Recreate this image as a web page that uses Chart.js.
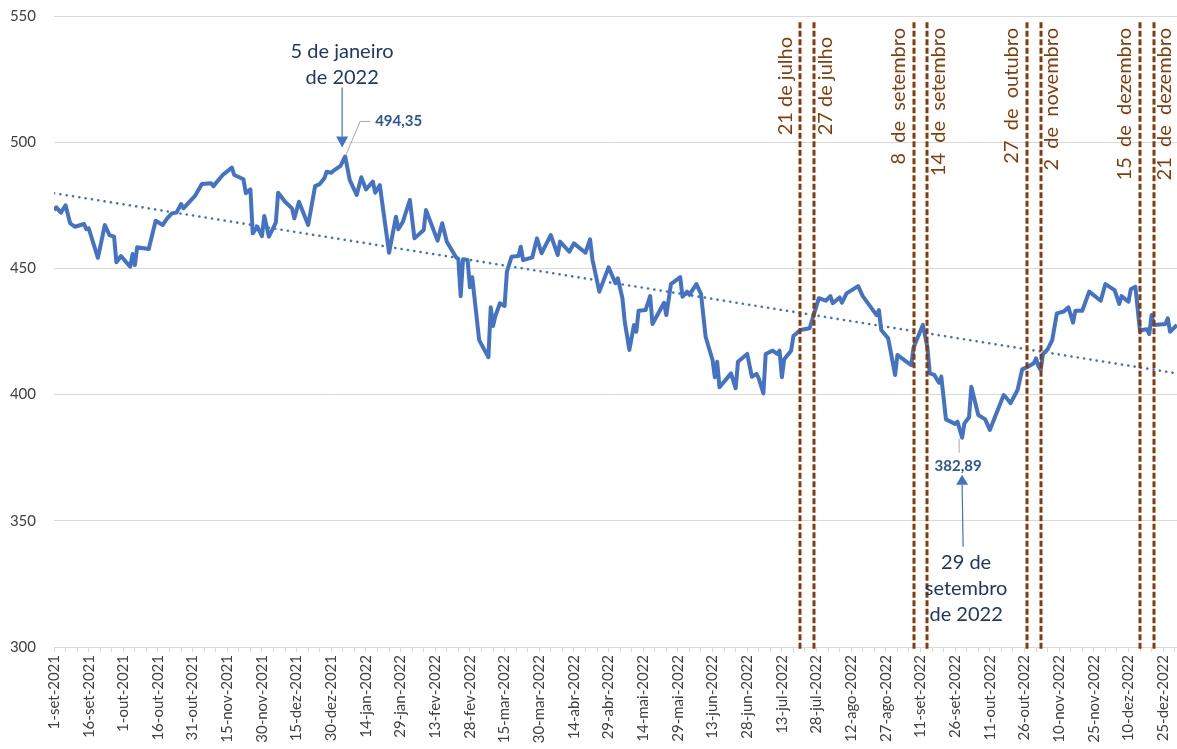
<!DOCTYPE html>
<html lang="pt">
<head>
<meta charset="utf-8">
<title>Cotação diária</title>
<script src="https://cdn.jsdelivr.net/npm/chart.js@4.4.1/dist/chart.umd.min.js"></script>
<style>
  html, body { margin: 0; padding: 0; background: #fff; }
</style>
</head>
<body>
<canvas id="Chart" width="1177" height="749"></canvas>
<script>
// DATA (turning points of the daily series)

const startDate = '2021-09-01';
const endDate = '2022-12-31';
const monthNames = ['jan', 'fev', 'mar', 'abr', 'mai', 'jun', 'jul', 'ago', 'set', 'out', 'nov', 'dez'];

const dates = [
	'2021-09-01','2021-09-02','2021-09-04','2021-09-06','2021-09-08','2021-09-10','2021-09-14','2021-09-15','2021-09-16','2021-09-20',
	'2021-09-23','2021-09-25','2021-09-27','2021-09-28','2021-09-30','2021-10-02','2021-10-04','2021-10-05','2021-10-06','2021-10-07',
	'2021-10-12','2021-10-15','2021-10-18','2021-10-20','2021-10-22','2021-10-24','2021-10-26','2021-10-27','2021-11-01','2021-11-04',
	'2021-11-08','2021-11-09','2021-11-13','2021-11-17','2021-11-18','2021-11-22','2021-11-23','2021-11-25','2021-11-26','2021-11-28',
	'2021-11-30','2021-12-01','2021-12-03','2021-12-06','2021-12-07','2021-12-10','2021-12-13','2021-12-14','2021-12-16','2021-12-20',
	'2021-12-23','2021-12-25','2021-12-27','2021-12-28','2021-12-30','2021-12-31','2022-01-03','2022-01-05','2022-01-07','2022-01-10',
	'2022-01-12','2022-01-14','2022-01-17','2022-01-18','2022-01-20','2022-01-24','2022-01-27','2022-01-28','2022-01-30','2022-02-02',
	'2022-02-04','2022-02-08','2022-02-09','2022-02-14','2022-02-16','2022-02-18','2022-02-22','2022-02-23','2022-02-24','2022-02-25',
	'2022-02-27','2022-02-28','2022-03-01','2022-03-04','2022-03-08','2022-03-09','2022-03-10','2022-03-11','2022-03-13','2022-03-15',
	'2022-03-16','2022-03-18','2022-03-21','2022-03-22','2022-03-23','2022-03-27','2022-03-29','2022-03-31','2022-04-04','2022-04-07',
	'2022-04-08','2022-04-12','2022-04-14','2022-04-19','2022-04-21','2022-04-22','2022-04-25','2022-04-29','2022-05-02','2022-05-03',
	'2022-05-05','2022-05-06','2022-05-08','2022-05-10','2022-05-11','2022-05-12','2022-05-15','2022-05-17','2022-05-18','2022-05-23',
	'2022-05-24','2022-05-26','2022-05-30','2022-05-31','2022-06-02','2022-06-03','2022-06-06','2022-06-08','2022-06-10','2022-06-13',
	'2022-06-14','2022-06-15','2022-06-16','2022-06-21','2022-06-23','2022-06-24','2022-06-28','2022-06-30','2022-07-02','2022-07-03',
	'2022-07-05','2022-07-06','2022-07-09','2022-07-11','2022-07-12','2022-07-13','2022-07-14','2022-07-17','2022-07-18','2022-07-21',
	'2022-07-25','2022-07-29','2022-08-01','2022-08-03','2022-08-04','2022-08-07','2022-08-08','2022-08-10','2022-08-15','2022-08-17',
	'2022-08-23','2022-08-24','2022-08-25','2022-08-28','2022-08-31','2022-09-01','2022-09-05','2022-09-07','2022-09-08','2022-09-12',
	'2022-09-14','2022-09-15','2022-09-17','2022-09-19','2022-09-20','2022-09-22','2022-09-26','2022-09-27','2022-09-29','2022-09-30',
	'2022-10-02','2022-10-03','2022-10-06','2022-10-09','2022-10-11','2022-10-17','2022-10-18','2022-10-20','2022-10-23','2022-10-25',
	'2022-10-28','2022-10-30','2022-10-31','2022-11-01','2022-11-02','2022-11-03','2022-11-05','2022-11-07','2022-11-09','2022-11-12',
	'2022-11-14','2022-11-16','2022-11-17','2022-11-20','2022-11-23','2022-11-28','2022-11-30','2022-12-04','2022-12-06','2022-12-07',
	'2022-12-10','2022-12-11','2022-12-13','2022-12-15','2022-12-16','2022-12-18','2022-12-19','2022-12-20','2022-12-21','2022-12-26',
	'2022-12-27','2022-12-28','2022-12-31'
];

const values = [
	473.1, 474.2, 472.1, 475.0, 467.9, 466.5, 467.6, 465.5, 465.9, 454.2,
	467.2, 463.2, 462.6, 452.4, 454.9, 452.7, 450.7, 455.7, 451.3, 458.4,
	457.7, 468.9, 467.2, 469.8, 471.8, 472.1, 475.5, 473.8, 478.7, 483.4,
	483.7, 482.6, 487.0, 489.9, 487.0, 485.3, 479.8, 481.3, 463.9, 466.5,
	462.8, 470.8, 462.6, 468.1, 480.0, 476.4, 473.8, 469.8, 476.4, 467.2,
	482.6, 483.4, 485.7, 488.3, 487.9, 488.7, 490.6, 494.35, 485.0, 479.1,
	486.1, 481.3, 484.4, 480.0, 483.0, 456.2, 470.5, 465.5, 468.5, 477.1,
	461.9, 465.2, 473.1, 461.0, 467.9, 460.6, 454.4, 453.6, 439.0, 453.6,
	453.3, 442.5, 446.5, 421.6, 414.8, 434.6, 427.2, 431.1, 436.2, 435.1,
	448.7, 454.6, 454.9, 458.6, 453.3, 454.4, 461.9, 456.0, 463.2, 455.3,
	460.6, 456.6, 459.9, 456.2, 461.5, 453.6, 440.8, 450.4, 444.1, 446.1,
	438.2, 428.9, 417.7, 427.6, 424.9, 433.2, 433.5, 439.0, 428.0, 436.4,
	431.5, 443.8, 446.5, 438.8, 440.8, 439.5, 443.8, 439.9, 422.9, 413.7,
	406.9, 413.0, 402.9, 408.4, 402.5, 413.0, 416.1, 407.1, 408.2, 406.4,
	400.5, 416.1, 417.4, 416.1, 417.4, 406.9, 414.0, 417.4, 423.2, 425.6,
	426.3, 438.2, 437.2, 439.0, 436.2, 438.5, 436.4, 440.1, 443.0, 439.0,
	431.5, 433.5, 425.6, 422.3, 407.8, 415.7, 413.0, 411.7, 418.7, 427.6,
	418.7, 408.4, 407.8, 404.7, 407.1, 390.2, 388.4, 389.3, 382.89, 388.6,
	391.0, 403.1, 391.9, 390.2, 386.0, 399.8, 398.9, 396.6, 401.8, 410.0,
	411.3, 412.4, 414.4, 411.3, 409.7, 416.1, 417.9, 421.6, 432.2, 432.9,
	434.6, 428.5, 433.2, 433.2, 440.8, 437.2, 443.8, 441.4, 435.9, 439.0,
	436.8, 441.7, 442.7, 424.9, 425.6, 425.9, 424.0, 431.5, 427.6, 428.0,
	430.2, 424.9, 427.6
];

// linear trend (dotted), ends
const trendStart = 479.8;
const trendEnd = 408.4;

// vertical dashed markers
const eventDates = ['2022-07-21', '2022-07-27', '2022-09-08', '2022-09-14', '2022-10-27', '2022-11-02', '2022-12-15', '2022-12-21'];
const eventLabels = ['21 de julho', '27 de julho', '8  de  setembro', '14  de  setembro', '27  de  outubro', '2  de  novembro', '15  de  dezembro', '21  de  dezembro'];

const maxDate = '2022-01-05';
const maxText = ['5 de janeiro', 'de 2022'];
const minDate = '2022-09-29';
const minText = ['29 de', 'setembro', 'de 2022'];


// HELPERS

const DAY = 86400000;
const toUTC = s => { const p = s.split('-'); return Date.UTC(+p[0], +p[1] - 1, +p[2]); };
const dayOf = s => Math.round((toUTC(s) - toUTC(startDate)) / DAY);
const lastDay = dayOf(endDate);

const tickLabel = d => {
	const dt = new Date(toUTC(startDate) + d * DAY);
	return dt.getUTCDate() + '-' + monthNames[dt.getUTCMonth()] + '-' + dt.getUTCFullYear();
};
const fmt = v => v.toFixed(2).replace('.', ',');

const BLUE = '#4472C4';
const BROWN = '#843C0C';
const NAVY = '#203864';
const GRID = '#d9d9d9';

Chart.defaults.font.family = "Lato, 'Open Sans', sans-serif";


// ARROWS, LABELS AND MARKERS DRAWN ON TOP

const arrow = (ctx, x1, y1, x2, y2, head, half) => {
	const dir = y2 > y1 ? 1 : -1;
	ctx.beginPath();
	ctx.moveTo(x1, y1);
	ctx.lineTo(x2, y2 - dir * head);
	ctx.stroke();
	ctx.beginPath();
	ctx.moveTo(x2, y2);
	ctx.lineTo(x2 - half, y2 - dir * head);
	ctx.lineTo(x2 + half, y2 - dir * head);
	ctx.closePath();
	ctx.fill();
};

const extras = {
	id: 'extras',
	afterDatasetsDraw(chart) {
		const ctx = chart.ctx;
		const x = chart.scales.x, y = chart.scales.y;
		ctx.save();

		// dashed event lines
		ctx.strokeStyle = BROWN;
		ctx.lineWidth = 3;
		ctx.setLineDash([6, 2.5]);
		eventDates.forEach(d => {
			const px = Math.round(x.getPixelForValue(dayOf(d)));
			ctx.beginPath();
			ctx.moveTo(px, y.getPixelForValue(547.5));
			ctx.lineTo(px, y.bottom + 2);
			ctx.stroke();
		});
		ctx.setLineDash([]);

		// their vertical labels
		ctx.fillStyle = BROWN;
		ctx.font = '20px Lato';
		ctx.textAlign = 'right';
		ctx.textBaseline = 'middle';
		eventDates.forEach((d, i) => {
			const px = x.getPixelForValue(dayOf(d)) + (i % 2 === 0 ? -15 : 11);
			ctx.save();
			ctx.translate(px, y.top + (i < 2 ? 21 : 12));
			ctx.rotate(-Math.PI / 2);
			ctx.fillText(eventLabels[i], 0, 0);
			ctx.restore();
		});

		// maximum
		const hi = values[dates.indexOf(maxDate)];
		const hx = x.getPixelForValue(dayOf(maxDate)), hy = y.getPixelForValue(hi);
		ctx.fillStyle = NAVY;
		ctx.font = '20px Lato';
		ctx.textAlign = 'center';
		ctx.fillText(maxText[0], hx - 3, hy - 105);
		ctx.fillText(maxText[1], hx - 3, hy - 79);
		ctx.strokeStyle = BLUE;
		ctx.fillStyle = BLUE;
		ctx.lineWidth = 1.2;
		arrow(ctx, hx - 3, hy - 69, hx - 3, hy - 9, 11, 6);

		ctx.strokeStyle = '#a6a6a6';
		ctx.lineWidth = 1;
		ctx.beginPath();
		ctx.moveTo(hx + 1, hy - 2);
		ctx.lineTo(hx + 15, hy - 35);
		ctx.lineTo(hx + 25, hy - 35);
		ctx.stroke();
		ctx.fillStyle = '#2F5597';
		ctx.font = 'bold 15px Lato';
		ctx.textAlign = 'left';
		ctx.fillText(fmt(hi), hx + 30, hy - 35);

		// minimum
		const lo = values[dates.indexOf(minDate)];
		const lx = x.getPixelForValue(dayOf(minDate)), ly = y.getPixelForValue(lo);
		ctx.strokeStyle = '#a6a6a6';
		ctx.beginPath();
		ctx.moveTo(lx - 3, ly + 1);
		ctx.lineTo(lx - 3, ly + 15);
		ctx.stroke();
		ctx.textAlign = 'center';
		ctx.fillText(fmt(lo), lx - 4, ly + 28);

		ctx.strokeStyle = BLUE;
		ctx.fillStyle = BLUE;
		ctx.lineWidth = 1.2;
		arrow(ctx, lx + 1, ly + 109, lx, ly + 37, 10, 6);

		ctx.fillStyle = NAVY;
		ctx.font = '20px Lato';
		minText.forEach((t, i) => ctx.fillText(t, lx + 4, ly + 125 + i * 26));

		ctx.restore();
	}
};


// THE CHART

const canvas = document.getElementById('Chart');
const ctx = canvas.getContext('2d');

const series = dates.map((d, i) => ({ x: dayOf(d), y: values[i] }));
const trend = [{ x: 0, y: trendStart }, { x: lastDay, y: trendEnd }];

var myChart = new Chart(ctx, {
	type: 'line',
	data: {
		datasets: [{
			label: 'Cotação',
			data: series,
			borderColor: BLUE,
			borderWidth: 4,
			borderJoinStyle: 'round',
			pointRadius: 0,
			tension: 0
		}, {
			label: 'Linear',
			data: trend,
			borderColor: BLUE,
			borderWidth: 2.6,
			borderDash: [0.1, 6.3],
			borderCapStyle: 'round',
			pointRadius: 0
		}]
	},
	options: {
		responsive: false,
		animation: false,
		layout: { padding: { top: 16, left: 0, right: 0, bottom: 0 } },
		plugins: {
			legend: { display: false },
			tooltip: { enabled: false }
		},
		scales: {
			x: {
				type: 'linear',
				min: 0,
				max: lastDay,
				afterBuildTicks: s => {
					s.ticks = [];
					for (let d = 0; d <= lastDay; d += 5) s.ticks.push({ value: d });
				},
				afterFit: s => { s.height = 102; s.paddingLeft = 0; s.paddingRight = 0; },
				grid: { drawOnChartArea: false, color: GRID, tickLength: 5 },
				border: { color: GRID },
				ticks: {
					autoSkip: false,
					minRotation: 90,
					maxRotation: 90,
					padding: 3,
					color: '#404040',
					font: { size: 15 },
					callback: v => (v % 15 === 0 ? tickLabel(v) : '')
				}
			},
			y: {
				min: 300,
				max: 550,
				afterFit: s => { s.width = 54; s.paddingTop = 0; s.paddingBottom = 0; },
				grid: { color: GRID, drawTicks: false },
				border: { display: false },
				ticks: { stepSize: 50, padding: 18, color: '#404040', font: { size: 15 } }
			}
		}
	},
	plugins: [extras]
});
</script>
</body>
</html>
